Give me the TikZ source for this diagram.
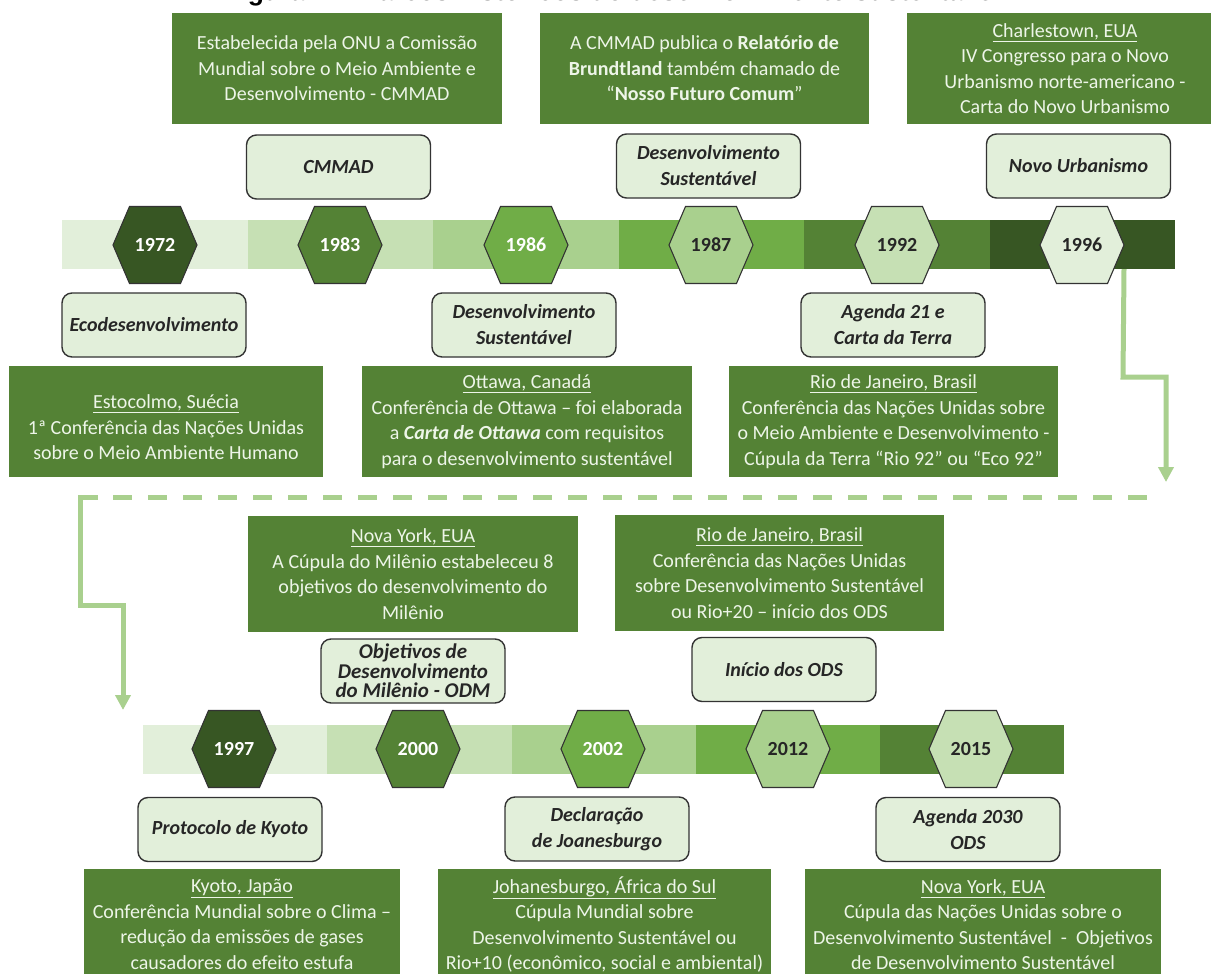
\documentclass[tikz,border=0pt]{standalone}
\usepackage{fontspec}
\setmainfont{Carlito}
\newfontfamily\titlefont{Liberation Sans}
\usetikzlibrary{arrows.meta}
\definecolor{gA}{HTML}{E2EFDA}
\definecolor{gB}{HTML}{C6E0B4}
\definecolor{gC}{HTML}{A9D08E}
\definecolor{gD}{HTML}{70AD47}
\definecolor{gE}{HTML}{548235}
\definecolor{gF}{HTML}{375623}
\definecolor{boxtxt}{HTML}{EDF5E8}
\definecolor{lbltxt}{HTML}{262626}
\definecolor{edgec}{HTML}{333333}
\definecolor{conn}{HTML}{A9D08E}
\tikzset{
 infobox/.style={fill=gE, text=boxtxt, align=center, inner sep=0pt,
   font=\fontsize{20}{25.5}\selectfont, minimum height=111pt},
 lbl/.style={fill=gA, draw=edgec, line width=1.4pt, rounded corners=10pt, align=center,
   text=lbltxt, font=\fontsize{20}{26}\selectfont\bfseries\itshape,
   minimum width=184pt, minimum height=64pt, inner sep=0pt},
 barseg/.style={minimum height=49pt, inner sep=0pt, anchor=west, draw=none, minimum width=#1},
 hexline/.style={draw=edgec, line width=1.1pt},
 yeartxt/.style={font=\fontsize{20}{20}\selectfont\bfseries, inner sep=0pt},
 flow/.style={draw=conn, line width=5pt},
 flowtip/.style={-{Triangle[width=15pt,length=15pt]}},
}
\newcommand\hexyear[6]{%
  \filldraw[hexline, fill=#4] (#2-42,#3) -- (#2-25.5,#3-38.5) -- (#2+25.5,#3-38.5)
    -- (#2+42,#3) -- (#2+25.5,#3+38.5) -- (#2-25.5,#3+38.5) -- cycle;
  \node[yeartxt, text=#5] (#1) at (#2,#3) {#6};
  \coordinate (#1r) at (#2+42,#3);}
\begin{document}
\begin{tikzpicture}[x=1pt,y=-1pt]
\useasboundingbox (0,0) rectangle (1211,974);
\fill[white] (0,0) rectangle (1211,974);

% title (cut at the top)
\node[anchor=base west, inner sep=0pt, font={\titlefont\bfseries\fontsize{26.5}{26.5}\selectfont}] (title) at (224,1) {Figura 1 – Marcos históricos do desenvolvimento sustentável};

% ---------- top row boxes ----------
\node[infobox, minimum width=330pt] (bA) at (337,68.5) {Estabelecida pela ONU a Comissão\\Mundial sobre o Meio Ambiente e\\Desenvolvimento - CMMAD};
\node[infobox, minimum width=329pt] (bB) at (704.5,68.5) {A CMMAD publica o \textbf{Relatório de}\\\textbf{Brundtland} também chamado de\\“\textbf{Nosso Futuro Comum}”};
\node[infobox, minimum width=316pt] (bC) at (1065,68.5) {\underline{Charlestown, EUA}\\IV Congresso para o Novo\\Urbanismo norte-americano -\\Carta do Novo Urbanismo};

\node[lbl] (lCMMAD) at (338.5,167) {CMMAD};
\node[lbl] (lDSa) at (708.5,166) {Desenvolvimento\\Sustentável};
\node[lbl] (lNU) at (1078.5,166) {Novo Urbanismo};

% ---------- top timeline ----------
\node[barseg=186pt, fill=gA] (t1) at (62,244.5) {};
\node[barseg=186pt, fill=gB] (t2) at (247.5,244.5) {};
\node[barseg=186pt, fill=gC] (t3) at (433,244.5) {};
\node[barseg=186pt, fill=gD] (t4) at (618.5,244.5) {};
\node[barseg=186pt, fill=gE] (t5) at (804,244.5) {};
\node[barseg=185.5pt, fill=gF] (t6) at (989.5,244.5) {};

\hexyear{h1972}{155}{245}{gF}{white}{1972}
\hexyear{h1983}{340}{245}{gE}{white}{1983}
\hexyear{h1986}{526}{245}{gD}{white}{1986}
\hexyear{h1987}{711}{245}{gC}{lbltxt}{1987}
\hexyear{h1992}{897}{245}{gB}{lbltxt}{1992}
\hexyear{h1996}{1082}{245}{gA}{lbltxt}{1996}

% ---------- second row ----------
\node[lbl] (lEco) at (154,325) {Ecodesenvolvimento};
\node[lbl] (lDSb) at (524,325) {Desenvolvimento\\Sustentável};
\node[lbl] (lA21) at (893,325) {Agenda 21 e\\Carta da Terra};

\node[infobox, minimum width=314pt] (bEst) at (166,421.5) {\mbox{}\\\underline{Estocolmo, Suécia}\\1ª Conferência das Nações Unidas\\sobre o Meio Ambiente Humano};
\node[infobox, minimum width=330pt] (bOtt) at (527,421.5) {\underline{Ottawa, Canadá}\\Conferência de Ottawa – foi elaborada\\a \textbf{\textit{Carta de Ottawa}} com requisitos\\para o desenvolvimento sustentável};
\node[infobox, minimum width=329pt] (bRio) at (893.5,421.5) {\underline{Rio de Janeiro, Brasil}\\Conferência das Nações Unidas sobre\\o Meio Ambiente e Desenvolvimento -\\Cúpula da Terra “Rio 92” ou “Eco 92”};

% ---------- connectors ----------
\coordinate (k1) at (1123,377);
\coordinate (k2) at (1166,377);
\coordinate (tipA) at (1166,482);
\draw[flow, flowtip] (t6.south -| h1996r) -- (k1) -- (k2) -- (tipA);

\coordinate (dL) at (80,497);
\coordinate (dS) at (98,497);
\coordinate (dM) at (113,497);
\coordinate (dR) at (1157,497);
\coordinate (k3) at (80,605);
\coordinate (k4) at (123,605);
\coordinate (tipB) at (123,710);
\draw[flow, dash pattern=on 19pt off 16pt] (dM) -- (dR);
\draw[flow, flowtip] (dS) -- (dL) -- (k3) -- (k4) -- (tipB);

% ---------- third row ----------
\node[infobox, minimum width=330pt, minimum height=116pt] (bNY) at (413,574) {\underline{Nova York, EUA}\\A Cúpula do Milênio estabeleceu 8\\objetivos do desenvolvimento do\\Milênio};
\node[infobox, minimum width=329pt, minimum height=116pt] (bRv) at (779.5,573) {\underline{Rio de Janeiro, Brasil}\\Conferência das Nações Unidas\\sobre Desenvolvimento Sustentável\\ou Rio+20 – início dos ODS};

\node[lbl, font=\fontsize{21}{19.5}\selectfont\bfseries\itshape] (lODM) at (413,671) {Objetivos de\\Desenvolvimento\\do Milênio - ODM};
\node[lbl] (lODS) at (784,669.5) {Início dos ODS};

% ---------- bottom timeline ----------
\node[barseg=185pt, fill=gA] (u1) at (143,749) {};
\node[barseg=185pt, fill=gB] (u2) at (327.2,749) {};
\node[barseg=185pt, fill=gC] (u3) at (511.4,749) {};
\node[barseg=185pt, fill=gD] (u4) at (695.6,749) {};
\node[barseg=184.2pt, fill=gE] (u5) at (879.8,749) {};

\hexyear{h1997}{234}{749}{gF}{white}{1997}
\hexyear{h2000}{418}{749}{gE}{white}{2000}
\hexyear{h2002}{603}{749}{gD}{white}{2002}
\hexyear{h2012}{788}{749}{gC}{lbltxt}{2012}
\hexyear{h2015}{971}{749}{gB}{lbltxt}{2015}

% ---------- fourth row ----------
\node[lbl] (lKyo) at (230,829.5) {Protocolo de Kyoto};
\node[lbl] (lJoa) at (597,829) {Declaração\\de Joanesburgo};
\node[lbl] (lA30) at (968,829.5) {Agenda 2030\\ODS};

\node[infobox, minimum width=316pt] (bKyo) at (242,924.5) {\underline{Kyoto, Japão}\\Conferência Mundial sobre o Clima –\\redução da emissões de gases\\causadores\ do efeito estufa};
\node[infobox, minimum width=333pt] (bJoh) at (604.5,924.5) {\underline{Johanesburgo, África do Sul}\\Cúpula Mundial sobre\\Desenvolvimento Sustentável ou\\Rio+10\ (econômico, social e ambiental)};
\node[infobox, minimum width=356pt] (bNYb) at (983,924.5) {\underline{Nova York, EUA}\\Cúpula das Nações Unidas sobre o\\Desenvolvimento Sustentável\ \ -\ \ Objetivos\\de Desenvolvimento Sustentável};
\end{tikzpicture}
\end{document}
